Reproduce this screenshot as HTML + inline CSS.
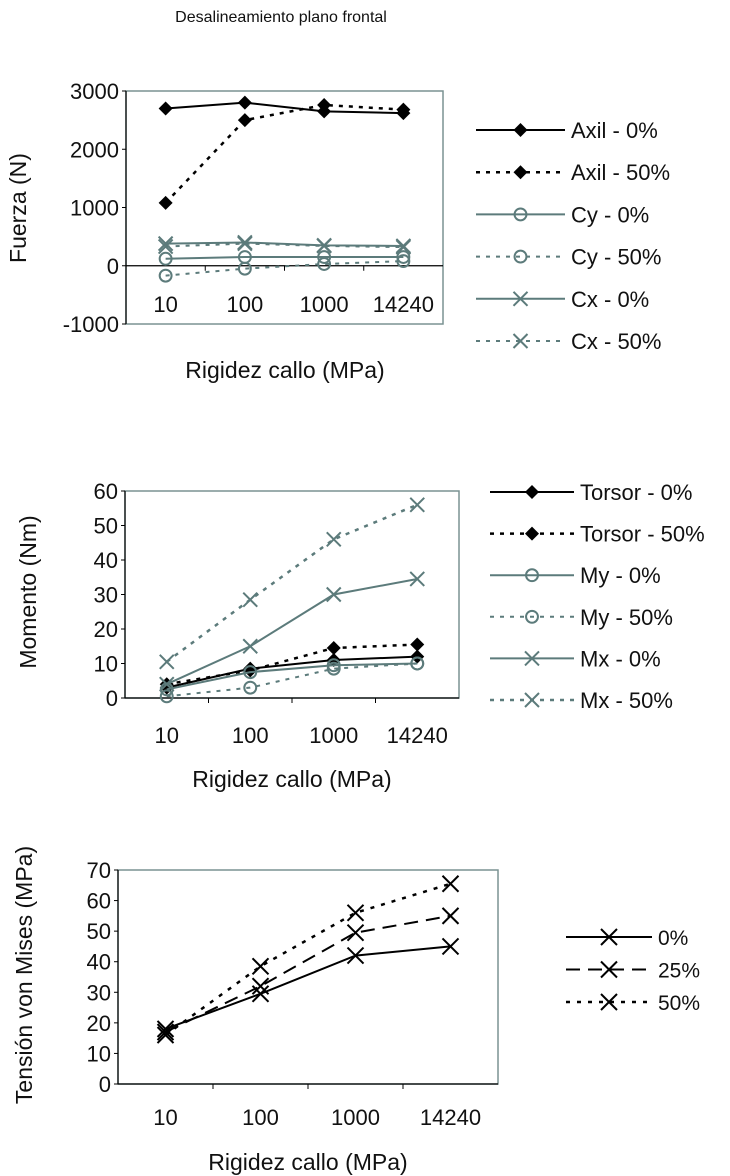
<!DOCTYPE html>
<html><head><meta charset="utf-8">
<style>
html,body{margin:0;padding:0;background:#fff;}
svg{display:block;font-family:"Liberation Sans",Arial,sans-serif;}
</style></head>
<body>
<svg id="svg" width="730" height="1176" viewBox="0 0 730 1176" xmlns="http://www.w3.org/2000/svg">
<text x="281" y="22" font-size="16" text-anchor="middle" fill="#111">Desalineamiento plano frontal</text>
</svg>
<script>
// ---- data ----
const categories = ["10","100","1000","14240"];
// chart 1: Fuerza (N)
const forceTicks = [3000,2000,1000,0,-1000];
const axil0 = [2700,2800,2650,2620];
const axil50 = [1080,2500,2760,2680];
const cy0 = [120,150,150,150];
const cy50 = [-170,-50,30,80];
const cx0 = [380,400,350,340];
const cx50 = [330,380,340,320];
// chart 2: Momento (Nm)
const momentTicks = [60,50,40,30,20,10,0];
const torsor0 = [3,8.5,11,12];
const torsor50 = [4,8,14.5,15.5];
const my0 = [2.5,7.5,9.5,10];
const my50 = [0.5,3,8.5,10];
const mx0 = [4,15,30,34.5];
const mx50 = [10.5,28.5,46,56];
// chart 3: Tension von Mises (MPa)
const misesTicks = [70,60,50,40,30,20,10,0];
const mises0 = [18,29.5,42,45];
const mises25 = [17,32,49.5,55];
const mises50 = [16,38.5,56,65.5];

const NS="http://www.w3.org/2000/svg";
const svg=document.getElementById('svg');
const TEAL="#5c7b7b", BLACK="#000";
function el(tag,attrs,parent){const e=document.createElementNS(NS,tag);for(const k in attrs)e.setAttribute(k,attrs[k]);(parent||svg).appendChild(e);return e;}

function marker(g,type,x,y,color,s){
  if(type==='diamond'){el('polygon',{points:`${x},${y-s} ${x+s},${y} ${x},${y+s} ${x-s},${y}`,fill:color},g);}
  else if(type==='circle'){el('circle',{cx:x,cy:y,r:s*0.85,fill:'none',stroke:color,'stroke-width':2},g);}
  else {el('path',{d:`M${x-s} ${y-s}L${x+s} ${y+s}M${x-s} ${y+s}L${x+s} ${y-s}`,stroke:color,'stroke-width':2},g);}
}

function chart(cfg){
  const {name,L,R,T,B,ymin,ymax,ticks,series,ytitle,ytx,yty,xlabY,xtitleY,xtitleX,fs,tfs,lfs,leg}=cfg;
  const g=el('g',{});
  
  
  const ys=v=>B-(v-ymin)/(ymax-ymin)*(B-T);
  const bw=(R-L)/categories.length;
  const xs=i=>L+bw*(i+0.5);
  el('rect',{x:L,y:T,width:R-L,height:B-T,fill:'none',stroke:'#7a9292','stroke-width':1.5},g);
  const y0=ys(0);
  el('line',{x1:L,x2:R,y1:y0,y2:y0,stroke:'#000','stroke-width':1.2},g);
  for(let i=1;i<categories.length;i++){el('line',{x1:L+bw*i,x2:L+bw*i,y1:y0,y2:y0+5,stroke:'#000'},g);}
  el('line',{x1:L,x2:L,y1:T,y2:B,stroke:'#000','stroke-width':1.2},g);
  ticks.forEach(t=>{
    const tx=el('text',{x:L-7,y:ys(t)+8,'font-size':fs,'text-anchor':'end',fill:'#111'},g);
    tx.textContent=t;
    
    
    el('line',{x1:L-4,x2:L,y1:ys(t),y2:ys(t),stroke:'#000'},g);
  });
  categories.forEach((c,i)=>{
    const tx=el('text',{x:xs(i),y:xlabY,'font-size':fs,'text-anchor':'middle',fill:'#111'},g);
    tx.textContent=c;
    
    
  });
  const yt=el('text',{x:0,y:0,'font-size':tfs,'text-anchor':'middle',fill:'#111',transform:`translate(${ytx},${yty}) rotate(-90)`},g);
  yt.textContent=ytitle;
  
  
  const xt=el('text',{x:xtitleX,y:xtitleY,'font-size':tfs,'text-anchor':'middle',fill:'#111'},g);
  xt.textContent='Rigidez callo (MPa)';
  
  
  series.forEach((s,si)=>{
    const sg=el('g',{},g);
    
    
    const pts=s.data.map((v,i)=>xs(i)+','+ys(v)).join(' ');
    el('polyline',{points:pts,fill:'none',stroke:s.color,'stroke-width':s.w||2,'stroke-dasharray':s.dash||'none'},sg);
    s.data.forEach((v,i)=>marker(sg,s.m,xs(i),ys(v),s.color,s.ms||7));
    const ly=leg.y0+si*leg.dy;
    const lg=el('g',{},g);
    
    
    el('line',{x1:leg.x1,x2:leg.x2,y1:ly,y2:ly,stroke:s.color,'stroke-width':s.w||2,'stroke-dasharray':s.dash||'none'},lg);
    marker(lg,s.m,(leg.x1+leg.x2)/2,ly,s.color,s.ms||7);
    const lt=el('text',{x:leg.x2+6,y:ly+8,'font-size':lfs,fill:'#111'},lg);
    lt.textContent=s.label;
  });
}

chart({name:'force-chart',L:126,R:443,T:91,B:324,ymin:-1000,ymax:3000,ticks:forceTicks,fs:22,tfs:23,lfs:22,
  ytitle:'Fuerza (N)',ytx:26,yty:208,xlabY:312,xtitleY:378,xtitleX:285,
  leg:{x1:476,x2:565,y0:130,dy:42.2},
  series:[
    {id:'axil-0',label:'Axil - 0%',data:axil0,color:BLACK,m:'diamond'},
    {id:'axil-50',label:'Axil - 50%',data:axil50,color:BLACK,m:'diamond',dash:'4 6',w:2.5},
    {id:'cy-0',label:'Cy - 0%',data:cy0,color:TEAL,m:'circle'},
    {id:'cy-50',label:'Cy - 50%',data:cy50,color:TEAL,m:'circle',dash:'4 6'},
    {id:'cx-0',label:'Cx - 0%',data:cx0,color:TEAL,m:'x'},
    {id:'cx-50',label:'Cx - 50%',data:cx50,color:TEAL,m:'x',dash:'4 6'}
  ]});

chart({name:'moment-chart',L:125,R:459,T:491,B:698,ymin:0,ymax:60,ticks:momentTicks,fs:22,tfs:23,lfs:22,
  ytitle:'Momento (Nm)',ytx:36,yty:592,xlabY:743,xtitleY:787,xtitleX:292,
  leg:{x1:490,x2:574,y0:492,dy:41.6},
  series:[
    {id:'torsor-0',label:'Torsor - 0%',data:torsor0,color:BLACK,m:'diamond'},
    {id:'torsor-50',label:'Torsor - 50%',data:torsor50,color:BLACK,m:'diamond',dash:'4 6',w:2.5},
    {id:'my-0',label:'My - 0%',data:my0,color:TEAL,m:'circle'},
    {id:'my-50',label:'My - 50%',data:my50,color:TEAL,m:'circle',dash:'4 6'},
    {id:'mx-0',label:'Mx - 0%',data:mx0,color:TEAL,m:'x'},
    {id:'mx-50',label:'Mx - 50%',data:mx50,color:TEAL,m:'x',dash:'4 6',w:2.5}
  ]});

chart({name:'mises-chart',L:118,R:498,T:870,B:1084,ymin:0,ymax:70,ticks:misesTicks,fs:22,tfs:23,lfs:21,
  ytitle:'Tensión von Mises (MPa)',ytx:32,yty:975,xlabY:1125,xtitleY:1170,xtitleX:308,
  leg:{x1:566,x2:652,y0:937,dy:32.5},
  series:[
    {id:'mises-0',label:'0%',data:mises0,color:BLACK,m:'x',ms:8},
    {id:'mises-25',label:'25%',data:mises25,color:BLACK,m:'x',dash:'14 8',ms:8},
    {id:'mises-50',label:'50%',data:mises50,color:BLACK,m:'x',dash:'4 7',w:2.5,ms:8}
  ]});
</script>
</body></html>
